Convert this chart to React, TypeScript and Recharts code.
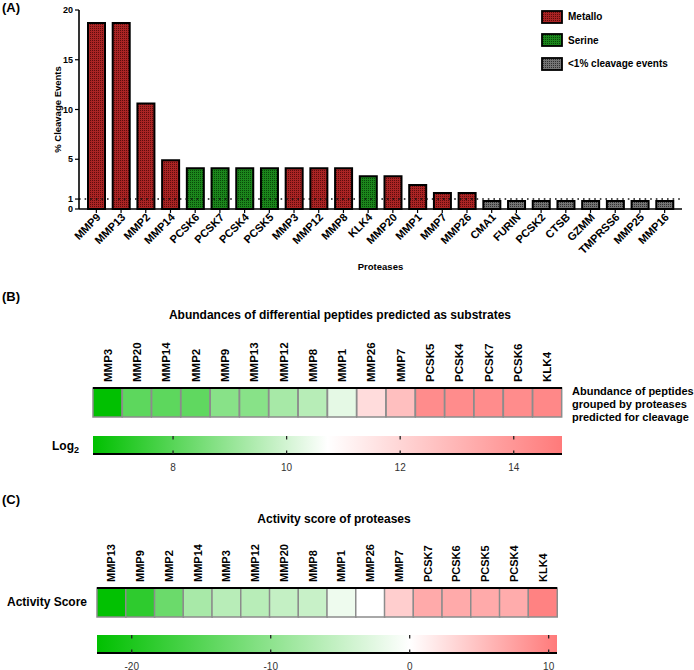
import React from 'react';
import { Area, Bar, BarChart, Cell, ComposedChart, ReferenceLine, XAxis, YAxis } from 'recharts';

// (A) cleavage events per protease
const proteases = ['MMP9', 'MMP13', 'MMP2', 'MMP14', 'PCSK6', 'PCSK7', 'PCSK4', 'PCSK5', 'MMP3', 'MMP12', 'MMP8', 'KLK4',
  'MMP20', 'MMP1', 'MMP7', 'MMP26', 'CMA1', 'FURIN', 'PCSK2', 'CTSB', 'GZMM', 'TMPRSS6', 'MMP25', 'MMP16'];
const cleavagePct = [18.7, 18.7, 10.6, 4.9, 4.1, 4.1, 4.1, 4.1, 4.1, 4.1, 4.1, 3.3,
  3.3, 2.4, 1.6, 1.6, 0.8, 0.8, 0.8, 0.8, 0.8, 0.8, 0.8, 0.8];
const proteaseClass = ['metallo', 'metallo', 'metallo', 'metallo', 'serine', 'serine', 'serine', 'serine', 'metallo', 'metallo', 'metallo', 'serine',
  'metallo', 'metallo', 'metallo', 'metallo', 'low', 'low', 'low', 'low', 'low', 'low', 'low', 'low'];
const cleavageTicks = [0, 1, 5, 10, 15, 20];
const legendItems = [
  { key: 'metallo', label: 'Metallo' },
  { key: 'serine', label: 'Serine' },
  { key: 'low', label: '<1% cleavage events' },
];

// (B) log2 abundances of peptides grouped by protease
const abundanceProteases = ['MMP3', 'MMP20', 'MMP14', 'MMP2', 'MMP9', 'MMP13', 'MMP12', 'MMP8', 'MMP1', 'MMP26', 'MMP7',
  'PCSK5', 'PCSK4', 'PCSK7', 'PCSK6', 'KLK4'];
const abundanceLog2 = [6.6, 8.1, 8.1, 8.15, 8.8, 8.8, 9.3, 9.55, 10.3, 11.8, 12.7, 14.3, 14.3, 14.3, 14.3, 14.4];
const abundanceRange = [6.59, 10.72, 14.85];
const abundanceTicks = [8, 10, 12, 14];

// (C) activity scores
const activityProteases = ['MMP13', 'MMP9', 'MMP2', 'MMP14', 'MMP3', 'MMP12', 'MMP20', 'MMP8', 'MMP1', 'MMP26', 'MMP7',
  'PCSK7', 'PCSK6', 'PCSK5', 'PCSK4', 'KLK4'];
const activityScore = [-22.3, -18.4, -13.1, -7.7, -6.3, -6.3, -5.2, -4.85, -1.5, 0, 3.9, 6.8, 6.8, 6.8, 6.6, 10.0];
const activityRange = [-22.5, 0, 10.6];
const activityTicks = [-20, -10, 0, 10];

const FONT = 'Arial, "Liberation Sans", sans-serif';
const GREEN = [0, 192, 0];
const WHITE = [255, 255, 255];
const RED = [255, 122, 122];

const mix = (a: number[], b: number[], t: number) =>
  a.map((c, i) => Math.round(c + (b[i] - c) * Math.max(0, Math.min(1, t))));

function heatColor(v: number, [lo, mid, hi]: number[]) {
  const rgb = v < mid ? mix(GREEN, WHITE, (v - lo) / (mid - lo)) : mix(WHITE, RED, (v - mid) / (hi - mid));
  return `rgb(${rgb.join(',')})`;
}

const patternFill: Record<string, string> = {
  metallo: 'url(#pat-metallo)',
  serine: 'url(#pat-serine)',
  low: 'url(#pat-low)',
};

// fine checkered hatch like the original prism fills (kept low contrast)
function Patterns() {
  const defs = [
    ['pat-metallo', '#aa2424', '#5e0c0c'],
    ['pat-serine', '#1c861c', '#084808'],
    ['pat-low', '#747474', '#303030'],
  ];
  return (
    <defs>
      {defs.map(([id, light, dark]) => (
        <pattern key={id} id={id} width={2} height={2} patternUnits="userSpaceOnUse">
          <rect width={2} height={2} fill={light} />
          <rect width={1} height={1} fill={dark} />
        </pattern>
      ))}
    </defs>
  );
}

const SlantTick = ({ x, y, payload }: any) => (
  <text transform={`translate(${x + 5},${y + 3}) rotate(-45)`} textAnchor="end" fontSize={11}
    fontWeight="bold" fontFamily={FONT} fill="#000">
    {payload.value}
  </text>
);

const UprightTick = ({ x, y, payload, size }: any) => (
  <text transform={`translate(${x + 4},${y}) rotate(-90)`} textAnchor="start" fontSize={size}
    fontWeight="bold" fontFamily={FONT} fill="#000">
    {payload.value}
  </text>
);

function CleavageChart() {
  const rows = proteases.map((name, i) => ({ name, value: cleavagePct[i], cls: proteaseClass[i] }));
  return (
    <BarChart width={694} height={292} data={rows} margin={{ top: 10, right: 12, left: 0, bottom: 0 }}>
      <Patterns />
      <ReferenceLine y={1} stroke="#111" strokeWidth={1.6} strokeDasharray="1.6 4" />
      <Bar dataKey="value" barSize={17} stroke="#000" strokeWidth={2} isAnimationActive={false}>
        {rows.map((r) => (
          <Cell key={r.name} fill={patternFill[r.cls]} />
        ))}
      </Bar>
      <XAxis dataKey="name" height={83} interval={0} tickSize={4} tickMargin={2} padding={{ left: 5, right: 5 }}
        tick={<SlantTick />} axisLine={{ stroke: '#000', strokeWidth: 1.6 }} tickLine={{ stroke: '#000', strokeWidth: 1.2 }}
        label={{ value: 'Proteases', position: 'insideBottom', offset: 22, fontSize: 9.5, fontWeight: 'bold', fontFamily: FONT, fill: '#000' }} />
      <YAxis width={79} domain={[0, 20]} ticks={cleavageTicks} interval={0} tickSize={4} tickMargin={2}
        axisLine={{ stroke: '#000', strokeWidth: 1.6 }} tickLine={{ stroke: '#000', strokeWidth: 1.2 }}
        tick={{ fontSize: 9, fontWeight: 'bold', fontFamily: FONT, fill: '#000' }}
        label={{ value: '% Cleavage Events', angle: -90, position: 'center', dx: 18, fontSize: 9.5, fontWeight: 'bold', fontFamily: FONT, fill: '#000' }} />
    </BarChart>
  );
}

function Legend() {
  return (
    <div style={{ position: 'absolute', left: 541, top: 5, fontFamily: FONT }}>
      {legendItems.map((item) => (
        <div key={item.key} style={{ display: 'flex', alignItems: 'center', height: 23.5 }}>
          <svg width={22} height={14} style={{ display: 'block' }}>
            <rect x={1} y={1} width={20} height={12} fill={patternFill[item.key]} stroke="#000" strokeWidth={1.8} />
          </svg>
          <span style={{ marginLeft: 5, fontSize: 10, fontWeight: 'bold', color: '#000' }}>{item.label}</span>
        </div>
      ))}
    </div>
  );
}

const edge = { stroke: '#000', strokeWidth: 2 };

function HeatStrip({ names, values, range, top, left, right, labelSize }: any) {
  const rows = names.map((name: string, i: number) => ({ name, value: values[i] }));
  return (
    <div style={{ position: 'absolute', top, left: 0 }}>
      <BarChart width={694} height={89} data={rows} barCategoryGap={0} margin={{ top: 0, right, left, bottom: 2 }}>
        <Bar dataKey={() => 1} stroke="#8c8c8c" strokeWidth={1.5} isAnimationActive={false}>
          {rows.map((r: any) => (
            <Cell key={r.name} fill={heatColor(r.value, range)} />
          ))}
        </Bar>
        <XAxis dataKey="name" orientation="top" height={58} interval={0} tickSize={0} tickMargin={6}
          tick={<UprightTick size={labelSize} />} axisLine={edge} tickLine={false} />
        <XAxis xAxisId="base" dataKey="name" orientation="bottom" height={0} tick={false} tickLine={false} axisLine={edge} />
        <YAxis domain={[0, 1]} width={0} tick={false} tickLine={false} axisLine={edge} />
        <YAxis yAxisId="right" orientation="right" domain={[0, 1]} width={0} tick={false} tickLine={false} axisLine={edge} />
      </BarChart>
    </div>
  );
}

function ColorBar({ id, range, ticks, top, left, right }: any) {
  const [lo, mid, hi] = range;
  const barH = 18;
  const rows = [{ v: lo }, { v: hi }];
  const ScaleTick = ({ x, y, payload }: any) => (
    <g>
      <line x1={x} x2={x} y1={y - barH} y2={y - barH + 3.5} stroke="#222" strokeWidth={1.3} />
      <line x1={x} x2={x} y1={y - 3.5} y2={y} stroke="#222" strokeWidth={1.3} />
      <text x={x} y={y + 16.5} textAnchor="middle" fontSize={10} fontFamily={FONT} fill="#333">{payload.value}</text>
    </g>
  );
  return (
    <div style={{ position: 'absolute', top, left: 0 }}>
      <ComposedChart width={694} height={48} data={rows} margin={{ top: 6, right, left, bottom: 0 }}>
        <defs>
          <linearGradient id={id} x1="0" y1="0" x2="1" y2="0">
            <stop offset="0" stopColor={heatColor(lo, range)} />
            <stop offset={(mid - lo) / (hi - lo)} stopColor="#fff" />
            <stop offset="1" stopColor={heatColor(hi, range)} />
          </linearGradient>
        </defs>
        <Area dataKey={() => 1} type="linear" fill={`url(#${id})`} fillOpacity={1} stroke="none"
          dot={false} activeDot={false} isAnimationActive={false} />
        <XAxis dataKey="v" type="number" domain={[lo, hi]} allowDataOverflow ticks={ticks} interval={0} height={24}
          tickSize={0} tickMargin={0} axisLine={edge} tickLine={false} tick={<ScaleTick />} />
        <XAxis xAxisId="top" dataKey="v" type="number" domain={[lo, hi]} orientation="top" height={0}
          tick={false} tickLine={false} axisLine={edge} />
        <YAxis domain={[0, 1]} width={0} tick={false} tickLine={false} axisLine={edge} />
        <YAxis yAxisId="right" orientation="right" domain={[0, 1]} width={0} tick={false} tickLine={false} axisLine={edge} />
      </ComposedChart>
    </div>
  );
}

const boldText = { fontFamily: FONT, fontWeight: 'bold' as const, fill: '#000' };

export default function App() {
  return (
    <div style={{ position: 'absolute', left: 0, top: 0, width: 694, height: 670, background: '#fff' }}>
      <CleavageChart />
      <Legend />
      <HeatStrip names={abundanceProteases} values={abundanceLog2} range={abundanceRange} top={330} left={93} right={132} labelSize={11.5} />
      <ColorBar id="grad-abundance" range={abundanceRange} ticks={abundanceTicks} top={430} left={93} right={132} />
      <HeatStrip names={activityProteases} values={activityScore} range={activityRange} top={530} left={97} right={137} labelSize={11} />
      <ColorBar id="grad-activity" range={activityRange} ticks={activityTicks} top={629} left={97} right={137} />
      <svg width={694} height={670} style={{ position: 'absolute', left: 0, top: 0, pointerEvents: 'none' }}>
        <text x={2} y={11.5} fontSize={13} {...boldText}>(A)</text>
        <text x={2} y={300.5} fontSize={13} {...boldText}>(B)</text>
        <text x={2} y={504} fontSize={13} {...boldText}>(C)</text>
        <text x={340} y={318.5} fontSize={12} textAnchor="middle" {...boldText}>
          Abundances of differential peptides predicted as substrates
        </text>
        <text x={572} fontSize={11} {...boldText}>
          <tspan x={572} y={394.5}>Abundance of peptides</tspan>
          <tspan x={572} y={407.5}>grouped by proteases</tspan>
          <tspan x={572} y={420.5}>predicted for cleavage</tspan>
        </text>
        <text x={52} y={450} fontSize={12} {...boldText}>
          Log<tspan fontSize={9} dy={3}>2</tspan>
        </text>
        <text x={334} y={523} fontSize={12} textAnchor="middle" {...boldText}>Activity score of proteases</text>
        <text x={7} y={606} fontSize={12} {...boldText}>Activity Score</text>
      </svg>
    </div>
  );
}
